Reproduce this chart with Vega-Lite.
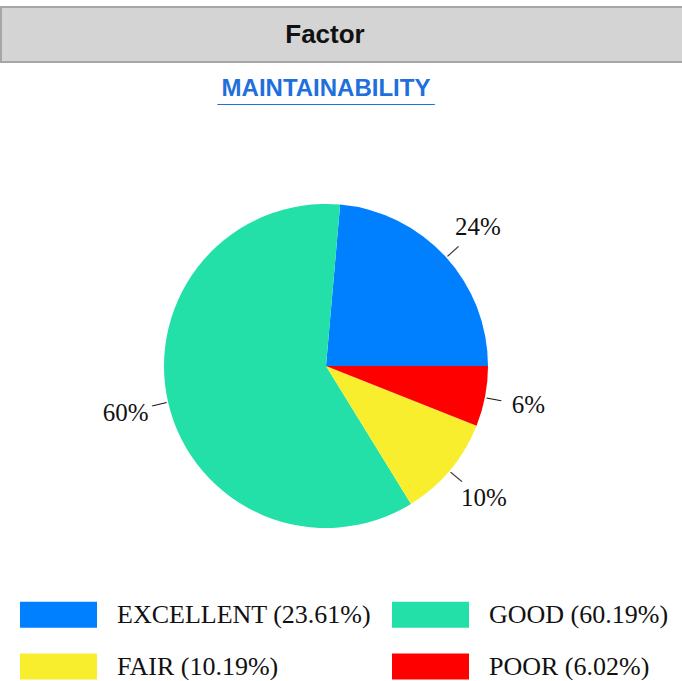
{
  "$schema": "https://vega.github.io/schema/vega-lite/v6.json",
  "padding": {"top": 6, "left": 0, "right": 0, "bottom": 0},
  "spacing": 14,
  "background": "white",
  "config": {"view": {"stroke": null}},
  "datasets": {
    "factor": [{"label": "Factor"}],
    "shares": [
      {"category": "EXCELLENT", "legend": "EXCELLENT (23.61%)", "share": 0.2361, "order": 4},
      {"category": "GOOD", "legend": "GOOD (60.19%)", "share": 0.6019, "order": 3},
      {"category": "FAIR", "legend": "FAIR (10.19%)", "share": 0.1019, "order": 2},
      {"category": "POOR", "legend": "POOR (6.02%)", "share": 0.0602, "order": 1}
    ]
  },
  "vconcat": [
    {
      "width": 682,
      "height": 55,
      "view": {"fill": "#d4d4d4", "stroke": "#a6a6a6", "strokeWidth": 2},
      "data": {"name": "factor"},
      "mark": {"type": "text", "font": "Liberation Sans", "fontSize": 26, "fontWeight": "bold", "color": "#111111", "dx": -17, "baseline": "middle"},
      "encoding": {"text": {"field": "label", "type": "nominal"}}
    },
    {
      "width": 650,
      "height": 470,
      "data": {"name": "shares"},
      "title": {
        "text": "MAINTAINABILITY",
        "subtitle": "_______________",
        "anchor": "middle",
        "font": "Liberation Sans",
        "fontSize": 24,
        "fontWeight": "bold",
        "color": "#1f6fdc",
        "subtitleFont": "Liberation Sans",
        "subtitleFontSize": 26,
        "subtitleFontWeight": "bold",
        "subtitleColor": "#1f6fdc",
        "subtitlePadding": -20,
        "offset": 24
      },
      "layer": [
        {
          "mark": {"type": "arc", "outerRadius": 162},
          "encoding": {
            "theta": {"field": "share", "type": "quantitative", "stack": true, "scale": {"range": [1.5707963, 7.8539816]}},
            "order": {"field": "order", "type": "quantitative"},
            "color": {
              "field": "legend",
              "type": "nominal",
              "scale": {
                "domain": ["EXCELLENT (23.61%)", "FAIR (10.19%)", "GOOD (60.19%)", "POOR (6.02%)"],
                "range": ["#0080ff", "#f8ee2e", "#22e0a8", "#ff0000"]
              },
              "legend": {
                "title": null,
                "orient": "none",
                "legendX": 19,
                "legendY": 569,
                "columns": 2,
                "symbolType": "M-1,-0.338L1,-0.338L1,0.338L-1,0.338Z",
                "symbolSize": 5929,
                "symbolStrokeWidth": 0,
                "labelFont": "Liberation Serif",
                "labelFontSize": 26,
                "labelColor": "#111111",
                "labelOffset": 20,
                "labelLimit": 400,
                "columnPadding": 20,
                "rowPadding": -9,
                "padding": 0
              }
            }
          }
        },
        {
          "mark": {"type": "text", "radius": 171, "text": "—", "font": "Liberation Sans", "fontSize": 15, "color": "#222222", "align": "center", "baseline": "middle", "angle": {"expr": "(datum.share_start + datum.share_end) * 180"}},
          "encoding": {
            "theta": {"field": "share", "type": "quantitative", "stack": true, "scale": {"range": [1.5707963, 7.8539816]}},
            "order": {"field": "order", "type": "quantitative"}
          }
        },
        {
          "mark": {"type": "text", "radius": 206, "font": "Liberation Serif", "fontSize": 25, "color": "#111111"},
          "encoding": {
            "theta": {"field": "share", "type": "quantitative", "stack": true, "scale": {"range": [1.5707963, 7.8539816]}},
            "order": {"field": "order", "type": "quantitative"},
            "text": {"field": "share", "type": "quantitative", "format": ".0%"}
          }
        }
      ]
    }
  ]
}
